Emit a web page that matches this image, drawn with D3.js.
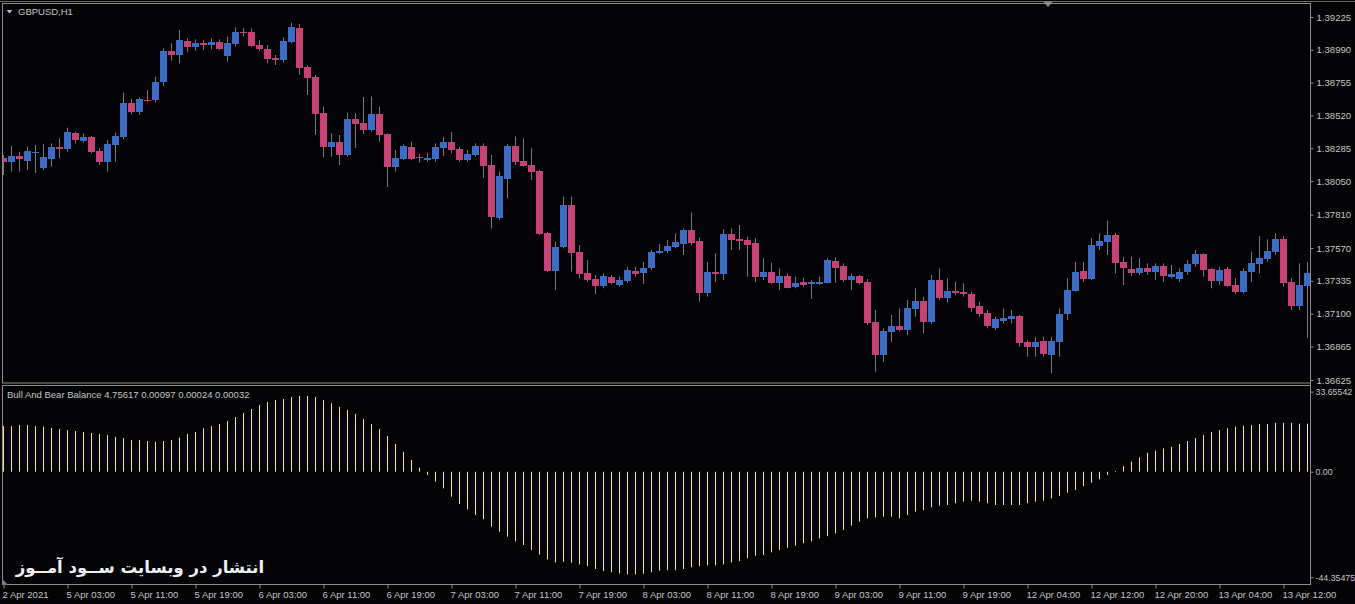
<!DOCTYPE html>
<html>
<head>
<meta charset="utf-8">
<script src="https://cdnjs.cloudflare.com/ajax/libs/d3/7.8.5/d3.min.js"></script>
<style>
	body { margin: 0; background: #040407; overflow: hidden; }
	text { font-family: 'Liberation Sans', Arial, sans-serif; }
</style>
</head>
<body>
<script>
// GBPUSD H1 candles, 2 Apr 19:00 .. 13 Apr 15:00
let open = [
	1.38213,1.38189,1.38229,1.38196,1.38251,1.38146,1.38210,1.38296,1.38282,1.38392,
	1.38339,1.38368,1.38265,1.38186,1.38308,1.38366,1.38607,1.38545,1.38633,1.38631,
	1.38760,1.38981,1.38953,1.39053,1.39012,1.39041,1.39025,1.39046,1.38948,1.39034,
	1.39118,1.39118,1.39027,1.38996,1.38931,1.38917,1.39046,1.39146,1.38867,1.38795,
	1.38537,1.38294,1.38330,1.38237,1.38497,1.38466,1.38416,1.38532,1.38387,1.38153,
	1.38211,1.38296,1.38220,1.38203,1.38210,1.38290,1.38330,1.38277,1.38201,1.38237,
	1.38301,1.38165,1.37785,1.38065,1.38301,1.38194,1.38165,1.38122,1.37680,1.37406,
	1.37574,1.37878,1.37544,1.37391,1.37348,1.37298,1.37363,1.37308,1.37334,1.37408,
	1.37391,1.37429,1.37537,1.37549,1.37578,1.37599,1.37699,1.37621,1.37250,1.37399,
	1.37384,1.37671,1.37637,1.37630,1.37608,1.37365,1.37399,1.37322,1.37372,1.37293,
	1.37329,1.37315,1.37318,1.37322,1.37477,1.37441,1.37341,1.37372,1.37327,1.37040,
	1.36804,1.36969,1.37012,1.36983,1.37136,1.37191,1.37040,1.37341,1.37214,1.37265,
	1.37253,1.37241,1.37155,1.37107,1.36999,1.37050,1.37064,1.37086,1.36899,1.36863,
	1.36904,1.36804,1.36899,1.37096,1.37265,1.37406,1.37351,1.37587,1.37616,1.37664,
	1.37470,1.37422,1.37394,1.37427,1.37401,1.37441,1.37365,1.37348,1.37401,1.37456,
	1.37527,1.37420,1.37334,1.37420,1.37308,1.37257,1.37401,1.37458,1.37494,1.37540,
	1.37635,1.37327,1.37155,1.37293
]
let high = [
	1.38237,1.38301,1.38260,1.38296,1.38308,1.38315,1.38320,1.38356,1.38432,1.38403,
	1.38392,1.38373,1.38285,1.38344,1.38396,1.38683,1.38640,1.38650,1.38702,1.38797,
	1.39001,1.39037,1.39132,1.39072,1.39065,1.39060,1.39072,1.39065,1.39084,1.39151,
	1.39146,1.39144,1.39060,1.39025,1.38953,1.39080,1.39184,1.39175,1.38881,1.38810,
	1.38583,1.38392,1.38380,1.38540,1.38535,1.38652,1.38656,1.38583,1.38391,1.38272,
	1.38312,1.38332,1.38244,1.38253,1.38320,1.38368,1.38401,1.38296,1.38272,1.38320,
	1.38320,1.38237,1.38117,1.38315,1.38369,1.38356,1.38285,1.38129,1.37685,1.37616,
	1.37938,1.37938,1.37592,1.37484,1.37377,1.37389,1.37377,1.37365,1.37436,1.37436,
	1.37470,1.37556,1.37599,1.37628,1.37676,1.37711,1.37825,1.37646,1.37472,1.37532,
	1.37706,1.37711,1.37735,1.37651,1.37640,1.37497,1.37465,1.37425,1.37389,1.37365,
	1.37358,1.37341,1.37365,1.37497,1.37506,1.37461,1.37389,1.37377,1.37348,1.37126,
	1.36995,1.37091,1.37138,1.37198,1.37282,1.37222,1.37377,1.37425,1.37353,1.37329,
	1.37318,1.37257,1.37186,1.37126,1.37078,1.37138,1.37126,1.37091,1.36911,1.36935,
	1.36935,1.36935,1.37138,1.37353,1.37472,1.37472,1.37640,1.37676,1.37766,1.37680,
	1.37508,1.37508,1.37497,1.37461,1.37461,1.37461,1.37449,1.37425,1.37484,1.37556,
	1.37532,1.37425,1.37436,1.37436,1.37353,1.37425,1.37544,1.37656,1.37633,1.37676,
	1.37656,1.37353,1.37461,1.37472
]
let low = [
	1.38093,1.38117,1.38117,1.38129,1.38108,1.38129,1.38153,1.38213,1.38260,1.38320,
	1.38325,1.38249,1.38165,1.38117,1.38189,1.38349,1.38528,1.38523,1.38618,1.38611,
	1.38731,1.38912,1.38893,1.38976,1.38984,1.38989,1.38994,1.38989,1.38905,1.39012,
	1.39084,1.39012,1.38984,1.38893,1.38881,1.38898,1.39037,1.38810,1.38666,1.38380,
	1.38220,1.38224,1.38165,1.38224,1.38287,1.38387,1.38403,1.38332,1.38007,1.38117,
	1.38201,1.38201,1.38181,1.38189,1.38189,1.38229,1.38249,1.38189,1.38189,1.38224,
	1.38075,1.37711,1.37771,1.37926,1.38165,1.38153,1.38058,1.37664,1.37399,1.37270,
	1.37568,1.37401,1.37353,1.37329,1.37241,1.37282,1.37310,1.37293,1.37322,1.37365,
	1.37313,1.37413,1.37527,1.37532,1.37568,1.37520,1.37588,1.37187,1.37222,1.37329,
	1.37341,1.37556,1.37556,1.37365,1.37325,1.37341,1.37313,1.37270,1.37282,1.37282,
	1.37293,1.37205,1.37305,1.37318,1.37320,1.37329,1.37270,1.37310,1.37019,1.36684,
	1.36756,1.36899,1.36971,1.36947,1.37078,1.36959,1.37026,1.37198,1.37179,1.37234,
	1.37222,1.37114,1.37078,1.36995,1.36983,1.37031,1.37031,1.36863,1.36792,1.36792,
	1.36792,1.36673,1.36792,1.37055,1.37257,1.37329,1.37341,1.37556,1.37520,1.37389,
	1.37305,1.37370,1.37377,1.37377,1.37341,1.37329,1.37353,1.37329,1.37377,1.37436,
	1.37365,1.37282,1.37305,1.37293,1.37241,1.37246,1.37329,1.37389,1.37472,1.37520,
	1.37293,1.37126,1.37126,1.36924
]
let close = [
	1.38181,1.38229,1.38206,1.38265,1.38258,1.38222,1.38294,1.38282,1.38401,1.38339,
	1.38368,1.38258,1.38189,1.38315,1.38373,1.38609,1.38545,1.38636,1.38623,1.38760,
	1.38981,1.38953,1.39060,1.39012,1.39041,1.39025,1.39046,1.38998,1.39041,1.39118,
	1.39110,1.39020,1.38996,1.38924,1.38917,1.39053,1.39156,1.38862,1.38790,1.38532,
	1.38296,1.38330,1.38237,1.38497,1.38459,1.38416,1.38532,1.38380,1.38153,1.38215,
	1.38301,1.38211,1.38210,1.38217,1.38296,1.38332,1.38272,1.38196,1.38244,1.38301,
	1.38158,1.37793,1.38086,1.38301,1.38186,1.38160,1.38117,1.37671,1.37406,1.37578,
	1.37878,1.37531,1.37384,1.37341,1.37298,1.37370,1.37320,1.37341,1.37413,1.37384,
	1.37429,1.37544,1.37551,1.37585,1.37613,1.37699,1.37606,1.37250,1.37399,1.37384,
	1.37671,1.37630,1.37623,1.37592,1.37365,1.37399,1.37322,1.37372,1.37286,1.37320,
	1.37305,1.37327,1.37329,1.37484,1.37429,1.37341,1.37372,1.37322,1.37031,1.36804,
	1.36976,1.37012,1.36983,1.37143,1.37191,1.37040,1.37341,1.37214,1.37265,1.37250,
	1.37236,1.37143,1.37100,1.37012,1.37064,1.37071,1.37086,1.36892,1.36863,1.36899,
	1.36811,1.36904,1.37098,1.37270,1.37401,1.37351,1.37592,1.37623,1.37664,1.37465,
	1.37425,1.37394,1.37427,1.37401,1.37441,1.37370,1.37384,1.37401,1.37456,1.37527,
	1.37413,1.37334,1.37413,1.37300,1.37257,1.37408,1.37465,1.37501,1.37549,1.37635,
	1.37322,1.37155,1.37303,1.37389
]

// Bull And Bear Balance histogram
let balance = [
	19.2,19.2,19.6,19.6,19.2,18.9,18.4,18.0,17.5,17.1,
	16.7,16.3,15.9,15.4,14.7,14.2,13.3,13.3,12.9,12.6,
	12.9,13.3,14.3,15.9,16.7,18.3,19.2,20.1,21.3,23.0,
	24.7,26.4,28.1,29.3,30.2,30.6,31.4,31.8,31.8,31.4,
	30.2,28.8,27.3,26.0,24.3,22.2,20.1,18.0,15.0,11.7,
	8.4,4.9,1.7,-1.4,-4.2,-7.0,-10.5,-13.6,-15.8,-18.2,
	-20.0,-23.1,-25.2,-27.3,-29.2,-30.8,-32.9,-34.8,-36.9,-38.1,
	-37.9,-38.3,-39.0,-39.7,-40.9,-41.8,-42.3,-42.7,-43.2,-43.2,
	-42.9,-42.3,-41.6,-41.4,-41.4,-40.9,-40.2,-39.7,-39.3,-39.3,
	-39.0,-38.1,-37.6,-36.4,-35.3,-35.0,-33.9,-32.9,-32.0,-31.1,
	-30.1,-29.2,-28.0,-27.1,-25.9,-24.5,-22.7,-21.0,-19.6,-19.2,
	-18.9,-18.9,-19.6,-18.2,-16.8,-16.1,-15.0,-14.3,-14.0,-13.3,
	-12.6,-12.2,-12.6,-13.3,-14.0,-14.0,-14.0,-14.0,-13.3,-12.6,
	-12.2,-11.2,-10.2,-8.8,-7.7,-6.0,-4.6,-3.2,-1.4,0.3,
	2.4,4.2,6.0,8.0,8.8,9.8,10.5,11.7,12.9,14.2,
	15.4,16.7,17.5,18.3,18.9,19.4,19.6,20.1,20.1,20.6,
	20.6,20.6,20.2,20.2
]

let priceTicks = ['1.39225','1.38990','1.38755','1.38520','1.38285','1.38050','1.37810','1.37570','1.37335','1.37100','1.36865','1.36625']
let balanceTicks = ['33.65542','0.00','-44.35475']
let timeIdx = [0,8,16,24,32,40,48,56,64,72,80,88,96,104,112,120,128,136,144,152,160]
let timeLabels = ['2 Apr 2021','5 Apr 03:00','5 Apr 11:00','5 Apr 19:00','6 Apr 03:00','6 Apr 11:00','6 Apr 19:00',
	'7 Apr 03:00','7 Apr 11:00','7 Apr 19:00','8 Apr 03:00','8 Apr 11:00','8 Apr 19:00','9 Apr 03:00',
	'9 Apr 11:00','9 Apr 19:00','12 Apr 04:00','12 Apr 12:00','12 Apr 20:00','13 Apr 04:00','13 Apr 12:00']

let BULL = '#3d6cc4'
let BEAR = '#c54272'
let WICK = '#7a7a7a'
let HIST = '#eeea8e'
let FRAME = '#8e8e8e'
let LABEL = '#c4c4c4'

let W = 1355, H = 604
let axisX = 1310.5

let svg = d3.select('body').append('svg').attr('width', W).attr('height', H)
svg.append('rect').attr('width', W).attr('height', H).attr('fill', '#040407')

let bars = d3.range(open.length)
let x = d3.scaleLinear().domain([0, bars.length - 1]).range([3.5, 3.5 + 8 * (bars.length - 1)])
let yPrice = d3.scaleLinear().domain([1.36625, 1.39225]).range([380, 17])
let yBal = d3.scaleLinear().domain([-44.35475, 33.65542]).range([577.2, 391.7])

svg.append('defs').append('clipPath').attr('id', 'mainClip')
	.append('rect').attr('x', 3).attr('y', 4).attr('width', axisX - 3.5).attr('height', 379)

// frames
svg.append('line').attr('x1', 0).attr('x2', W).attr('y1', 1.5).attr('y2', 1.5).attr('stroke', '#6a6a6a')
svg.append('rect').attr('x', 2.5).attr('y', 3.5).attr('width', axisX - 2.5).attr('height', 379.5)
	.attr('fill', 'none').attr('stroke', FRAME)
svg.append('rect').attr('x', 2.5).attr('y', 385.5).attr('width', axisX - 2.5).attr('height', 199)
	.attr('fill', 'none').attr('stroke', FRAME)

// candles
let cg = svg.append('g').attr('clip-path', 'url(#mainClip)')
cg.selectAll('line.wick').data(bars).join('line').attr('class', 'wick')
	.attr('x1', i => x(i)).attr('x2', i => x(i))
	.attr('y1', i => yPrice(high[i])).attr('y2', i => yPrice(low[i]))
	.attr('stroke', WICK).attr('stroke-width', 1)
cg.selectAll('rect.body').data(bars).join('rect').attr('class', 'body')
	.attr('x', i => x(i) - 3.5).attr('width', 7)
	.attr('y', i => Math.round(yPrice(Math.max(open[i], close[i]))))
	.attr('height', i => Math.max(1, Math.round(Math.abs(yPrice(open[i]) - yPrice(close[i])))))
	.attr('fill', i => close[i] >= open[i] ? BULL : BEAR)
	.attr('shape-rendering', 'crispEdges')

// histogram
svg.append('g').selectAll('line').data(bars).join('line')
	.attr('x1', i => x(i)).attr('x2', i => x(i))
	.attr('y1', yBal(0)).attr('y2', i => yBal(balance[i]))
	.attr('stroke', HIST).attr('stroke-width', 1)

// axes
let styleAxis = function(g, size) {
	g.select('.domain').remove()
	g.selectAll('line').attr('stroke', FRAME)
	g.selectAll('text').attr('fill', LABEL).style('font-size', size)
}
svg.append('line').attr('x1', axisX).attr('x2', axisX).attr('y1', 3).attr('y2', 585).attr('stroke', FRAME)
svg.append('g').attr('transform', `translate(${axisX},0)`)
	.call(d3.axisRight(yPrice).tickValues(priceTicks.map(Number)).tickFormat((d, i) => priceTicks[i]).tickSize(3).tickPadding(3))
	.call(styleAxis, '9.6px')
svg.append('g').attr('transform', `translate(${axisX},0)`)
	.call(d3.axisRight(yBal).tickValues(balanceTicks.map(Number)).tickFormat((d, i) => balanceTicks[i]).tickSize(3).tickPadding(2))
	.call(styleAxis, '8.8px')
svg.append('g').attr('transform', 'translate(0,584.5)')
	.call(d3.axisBottom(x).tickValues(timeIdx).tickFormat((d, i) => timeLabels[i]).tickSize(4).tickPadding(3))
	.call(styleAxis, '9.5px')
	.selectAll('text').attr('text-anchor', 'start').attr('x', -1.5)

// titles and markers
svg.append('path').attr('d', 'M6.5,10 L12.5,10 L9.5,13.5 Z').attr('fill', '#b8b8b8')
svg.append('text').attr('x', 18).attr('y', 15).attr('fill', LABEL).style('font-size', '9.5px').text('GBPUSD,H1')
svg.append('text').attr('x', 7).attr('y', 397.5).attr('fill', LABEL).style('font-size', '9.5px')
	.text('Bull And Bear Balance 4.75617 0.00097 0.00024 0.00032')
svg.append('path').attr('d', 'M1043,1.5 L1053,1.5 L1048,7 Z').attr('fill', '#8a8a8a')
svg.append('path').attr('d', 'M2.5,579 L2.5,585 L8,585 Z').attr('fill', '#7a7a7a')

svg.append('text').attr('x', 140).attr('y', 573).attr('text-anchor', 'middle')
	.attr('fill', '#eef0f4').style('font-family', "'DejaVu Sans', sans-serif")
	.style('font-weight', 'bold').style('font-size', '16.5px')
	.text('انتشار در وبسایت ســود آمــوز')
</script>
</body>
</html>
